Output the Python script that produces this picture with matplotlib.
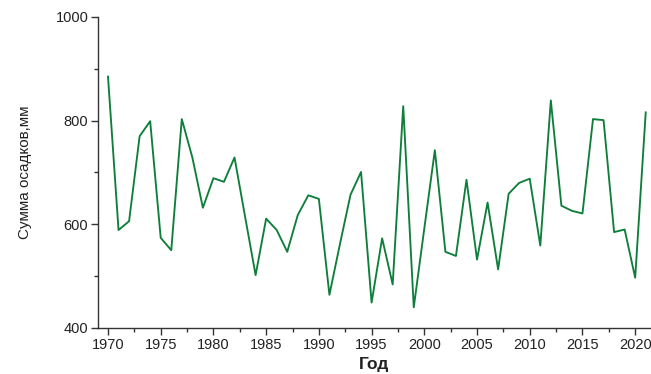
import numpy as np
import matplotlib.pyplot as plt
from matplotlib.ticker import MultipleLocator

# Annual precipitation totals
years = list(range(1970, 2022))
precip = [885, 589, 606, 770, 799, 574, 550, 803, 729, 632,
          689, 682, 729, 615, 502, 611, 589, 547, 618, 656,
          649, 464, 562, 657, 701, 449, 573, 484, 828, 440,
          592, 743, 547, 539, 686, 532, 642, 513, 659, 680,
          688, 559, 839, 636, 626, 621, 803, 801, 585, 590,
          497, 816]

plt.rcParams['font.family'] = ['Liberation Sans', 'DejaVu Sans']

fig = plt.figure(figsize=(6.51, 3.74), dpi=100)
ax = fig.add_axes([0.1505, 0.123, 0.8495, 0.8316])

ax.plot(years, precip, color='#0e7f3a', linewidth=1.35)

ax.set_xlim(1969.05, 2021.5)
ax.set_ylim(400, 1000)
ax.xaxis.set_major_locator(MultipleLocator(5))
ax.xaxis.set_minor_locator(MultipleLocator(2.5))
ax.yaxis.set_major_locator(MultipleLocator(200))
ax.yaxis.set_minor_locator(MultipleLocator(100))

for s in ['top', 'right']:
    ax.spines[s].set_visible(False)
for s in ['left', 'bottom']:
    ax.spines[s].set_color('#333333')
    ax.spines[s].set_linewidth(1.0)

ax.tick_params(which='major', length=5, width=1, color='#333333',
               labelsize=10.5, labelcolor='#222222', pad=2)
ax.tick_params(which='minor', length=3, width=1, color='#333333')

ax.set_ylabel('Сумма осадков,мм', fontsize=11, color='#222222', labelpad=17)
ax.set_xlabel('Год', fontsize=12.5, fontweight='bold', color='#222222', labelpad=4)

fig.savefig('out.png', dpi=100)
